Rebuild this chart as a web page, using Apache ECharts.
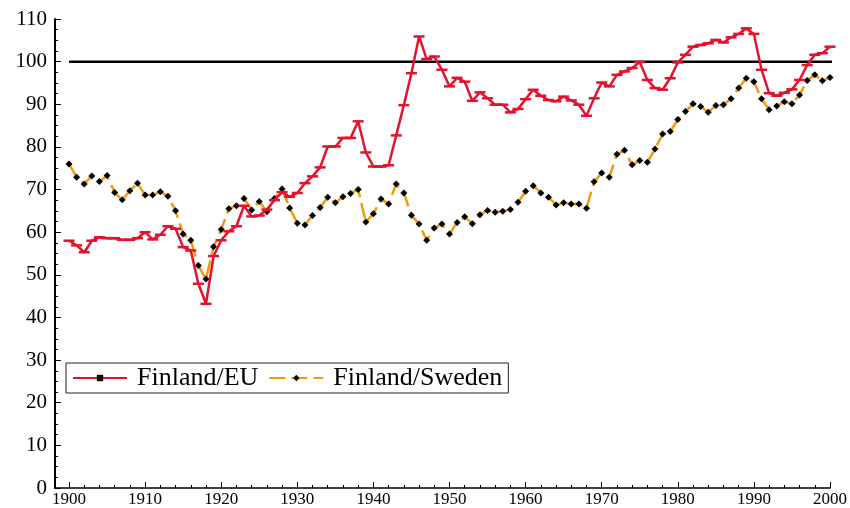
<!DOCTYPE html>
<html>
<head>
<meta charset="utf-8">
<script src="https://cdn.jsdelivr.net/npm/echarts@6/dist/echarts.min.js"></script>
<style>
  html, body { margin: 0; padding: 0; background: #fff; }
  #main { width: 850px; height: 508px; }
</style>
</head>
<body>
<div id="main"></div>
<script>
// years 1900..2000, one value per year
var startYear = 1900;
var finlandEU = [
  58.0, 56.9, 55.3, 58.0, 58.8, 58.6, 58.6, 58.2, 58.2, 58.6,
  60.0, 58.3, 59.4, 61.4, 60.8, 56.5, 55.7, 47.9, 43.2, 54.4,
  58.1, 60.2, 61.4, 66.2, 63.7, 63.9, 65.3, 67.5, 69.4, 68.3,
  69.2, 71.5, 73.1, 75.2, 80.1, 80.1, 82.1, 82.1, 86.0, 78.7,
  75.4, 75.4, 75.7, 82.7, 89.8, 97.3, 105.9, 100.6, 101.2, 98.1,
  94.2, 96.2, 95.3, 90.8, 92.8, 91.4, 89.9, 89.9, 88.1, 88.9,
  91.2, 93.4, 92.0, 91.0, 90.7, 91.8, 90.9, 89.9, 87.3, 91.4,
  95.1, 94.2, 96.9, 97.7, 98.5, 99.9, 95.7, 93.8, 93.4, 96.1,
  99.8, 101.6, 103.5, 103.9, 104.3, 105.1, 104.5, 105.7, 106.5, 107.8,
  106.5, 98.1, 92.6, 92.0, 92.7, 93.5, 95.7, 99.2, 101.6, 102.0,
  103.5
];
var finlandSweden = [
  76.0, 72.9, 71.3, 73.2, 71.9, 73.3, 69.3, 67.6, 69.7, 71.5,
  68.7, 68.7, 69.5, 68.4, 65.0, 59.6, 58.1, 52.2, 49.0, 56.6,
  60.6, 65.5, 66.2, 67.9, 65.2, 67.2, 64.8, 67.9, 70.1, 65.7,
  62.1, 61.7, 63.9, 65.8, 68.2, 66.9, 68.3, 69.1, 70.0, 62.4,
  64.3, 67.8, 66.6, 71.3, 69.2, 64.0, 61.9, 58.1, 61.0, 61.9,
  59.6, 62.3, 63.6, 62.0, 64.1, 65.1, 64.7, 64.9, 65.3, 67.0,
  69.6, 70.9, 69.2, 68.2, 66.4, 66.9, 66.6, 66.6, 65.6, 71.8,
  73.9, 72.9, 78.3, 79.2, 75.8, 76.8, 76.4, 79.5, 83.0, 83.6,
  86.4, 88.3, 90.1, 89.5, 88.1, 89.7, 89.9, 91.3, 93.8, 96.1,
  95.3, 91.3, 88.7, 89.6, 90.6, 90.1, 92.2, 95.6, 96.9, 95.5,
  96.3
];
var parityLine = [[1900, 100], [2002, 100]];
var xMajorTicks = [1900, 1910, 1920, 1930, 1940, 1950, 1960, 1970, 1980, 1990, 2000];
var xMinorTicks = [];
for (var t = 1900; t <= 2000; t += 2) xMinorTicks.push(t);

function toPairs(arr) {
  return arr.map(function (v, i) { return [startYear + i, v]; });
}

var RED = '#e3122d';
var ORANGE = '#f39a0b';
var SERIF = '"Liberation Serif", "DejaVu Serif", serif';

var chart = echarts.init(document.getElementById('main'));
var option = {
  animation: false,
  backgroundColor: '#fff',
  grid: { left: 55, right: 20, top: 19, bottom: 19, containLabel: false },
  legend: {
    left: 66, top: 363,
    orient: 'horizontal',
    data: [
      { name: 'Finland/EU', itemStyle: { color: '#000' } },
      { name: 'Finland/Sweden' }
    ],
    itemWidth: 54, itemHeight: 8, itemGap: 10,
    padding: [2, 6, 2, 6],
    borderColor: '#222', borderWidth: 1,
    textStyle: { fontFamily: SERIF, fontSize: 26, color: '#000', padding: [0, 0, 0, 5] }
  },
  xAxis: [{
    type: 'value', min: 1898.16, max: 2000,
    axisLine: { show: true, lineStyle: { color: '#000', width: 1.5 } },
    axisTick: { show: true, inside: true, length: 6, customValues: xMajorTicks, lineStyle: { color: '#000' } },
    axisLabel: {
      customValues: xMajorTicks, color: '#000', fontFamily: SERIF, fontSize: 17, margin: 3,
      formatter: function (v) { return String(Math.round(v)); }
    },
    splitLine: { show: false }
  }, {
    type: 'value', min: 1898.16, max: 2000, position: 'bottom',
    axisLine: { show: false },
    axisTick: { show: true, inside: true, length: 3, customValues: xMinorTicks, lineStyle: { color: '#000' } },
    axisLabel: { show: false },
    splitLine: { show: false }
  }],
  yAxis: {
    type: 'value', min: 0, max: 110, interval: 10,
    axisLine: { show: true, lineStyle: { color: '#000', width: 2 } },
    axisTick: { show: true, inside: true, length: 6, lineStyle: { color: '#000' } },
    minorTick: { show: true, splitNumber: 4, length: 3, lineStyle: { color: '#000' } },
    axisLabel: { color: '#000', fontFamily: SERIF, fontSize: 21, margin: 8 },
    splitLine: { show: false }
  },
  series: [
    {
      name: 'parity', type: 'line', data: parityLine, clip: false, silent: true,
      symbol: 'none', lineStyle: { color: '#000', width: 2.5 }, z: 1
    },
    {
      name: 'Finland/EU', type: 'line', data: toPairs(finlandEU),
      symbol: 'rect', symbolSize: [11, 2.5], showAllSymbol: true,
      itemStyle: { color: RED }, lineStyle: { color: RED, width: 2.5 }, z: 3
    },
    {
      name: 'Finland/Sweden', type: 'line', data: toPairs(finlandSweden),
      symbol: 'diamond', symbolSize: 7, showAllSymbol: true,
      itemStyle: { color: '#000' },
      lineStyle: { color: ORANGE, width: 2.5, type: [16, 6] }, z: 2
    }
  ]
};
chart.setOption(option);
</script>
</body>
</html>
